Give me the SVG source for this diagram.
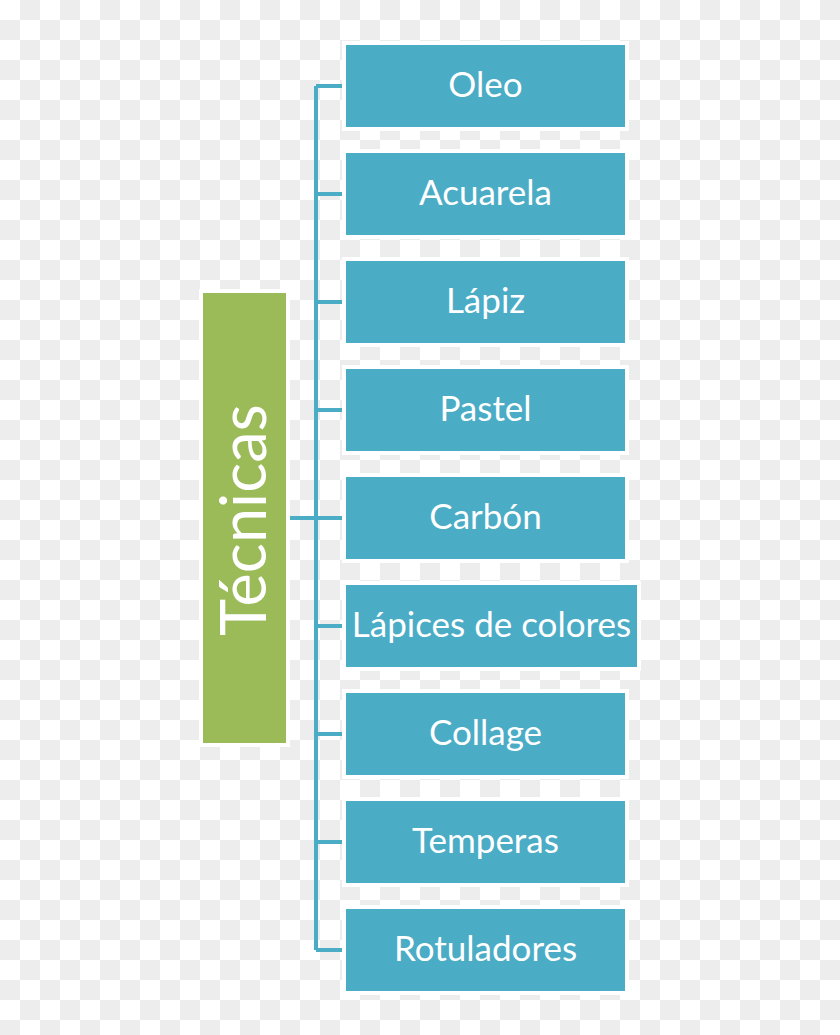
<svg xmlns="http://www.w3.org/2000/svg" width="840" height="1035" viewBox="0 0 840 1035">
<defs>
<pattern id="checker" x="0" y="0" width="40" height="40" patternUnits="userSpaceOnUse">
<rect width="40" height="40" fill="#ffffff"/>
<rect x="20" y="0" width="20" height="20" fill="#ededed"/>
<rect x="0" y="20" width="20" height="20" fill="#ededed"/>
</pattern>
<style>
.box{fill:#4bacc6;stroke:#ffffff;stroke-width:8;paint-order:stroke}
.root{fill:#9bbb59;stroke:#ffffff;stroke-width:8;paint-order:stroke}
.lbl{font-family:Lato,"Open Sans",sans-serif;font-size:35px;fill:#ffffff;text-anchor:middle}
.big{font-family:Lato,"Open Sans",sans-serif;font-size:63px;fill:#ffffff;text-anchor:middle}
.conn{fill:none;stroke:#4bacc6;stroke-width:4}
</style>
</defs>
<rect width="840" height="1035" fill="url(#checker)"/>
<g id="connectors">
<path class="conn" d="M316 86V950M286 518H316M316 86H346M316 194H346M316 302H346M316 410H346M316 518H346M316 626H346M316 734H346M316 842H346M316 950H346"/>
</g>
<g id="tecnicas">
<rect class="root" x="203" y="293" width="83" height="450"/>
<text class="big" transform="translate(266,520) rotate(-90)" x="0" y="0">Técnicas</text>
</g>
<g id="oleo"><rect class="box" x="346" y="45" width="279" height="82"/><text class="lbl" x="485.5" y="97">Oleo</text></g>
<g id="acuarela"><rect class="box" x="346" y="153" width="279" height="82"/><text class="lbl" x="485.5" y="205">Acuarela</text></g>
<g id="lapiz"><rect class="box" x="346" y="261" width="279" height="82"/><text class="lbl" x="485.5" y="313">Lápiz</text></g>
<g id="pastel"><rect class="box" x="346" y="369" width="279" height="82"/><text class="lbl" x="485.5" y="421">Pastel</text></g>
<g id="carbon"><rect class="box" x="346" y="477" width="279" height="82"/><text class="lbl" x="485.5" y="529">Carbón</text></g>
<g id="lapices"><rect class="box" x="346" y="585" width="291" height="82"/><text class="lbl" x="491.5" y="637">Lápices de colores</text></g>
<g id="collage"><rect class="box" x="346" y="693" width="279" height="82"/><text class="lbl" x="485.5" y="745">Collage</text></g>
<g id="temperas"><rect class="box" x="346" y="801" width="279" height="82"/><text class="lbl" x="485.5" y="853">Temperas</text></g>
<g id="rotuladores"><rect class="box" x="346" y="909" width="279" height="82"/><text class="lbl" x="485.5" y="961">Rotuladores</text></g>
</svg>
